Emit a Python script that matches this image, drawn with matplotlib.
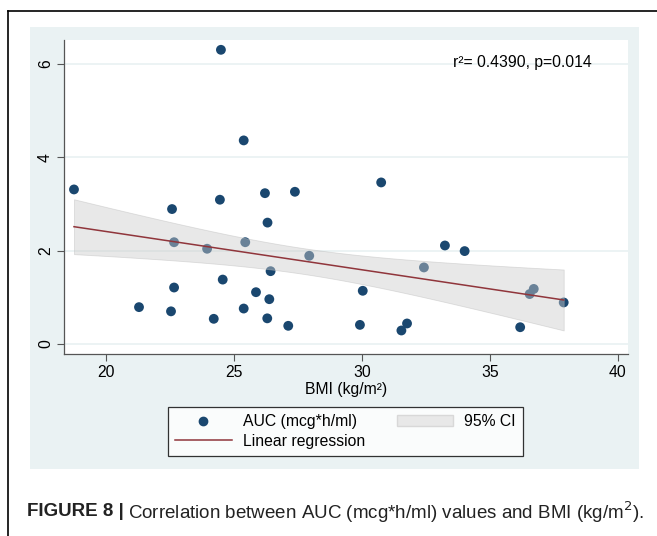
import numpy as np
import matplotlib.pyplot as plt
from matplotlib.lines import Line2D
from matplotlib.patches import Patch, Rectangle

plt.rcParams['font.family'] = ['Liberation Sans', 'DejaVu Sans']

# valeurs
bmi = [18.75, 24.49, 25.38, 24.45, 26.21, 27.38, 22.58, 26.31, 22.66, 23.95,
       25.44, 27.94, 26.43, 24.56, 22.66, 25.86, 26.38, 21.29, 22.54, 25.38,
       24.21, 26.30, 27.12, 30.75, 33.24, 34.01, 32.42, 30.03, 29.92, 31.54,
       31.76, 36.18, 36.55, 36.71, 37.88]
auc = [3.31, 6.30, 4.36, 3.09, 3.23, 3.26, 2.89, 2.60, 2.18, 2.04,
       2.18, 1.89, 1.56, 1.38, 1.21, 1.11, 0.96, 0.79, 0.70, 0.76,
       0.54, 0.55, 0.39, 3.46, 2.11, 1.99, 1.64, 1.14, 0.41, 0.29,
       0.44, 0.36, 1.07, 1.18, 0.89]
x_ticks = [20, 25, 30, 35, 40]
y_ticks = [0, 2, 4, 6]

NAVY = "#1a476f"
MAROON = "#90353b"
PANEL = "#eaf2f3"
# largeur de bande ajustée sur la figure (les valeurs lues donnent un se plus grand)
CI_MULT = 1.26
FS = 11.3

W, H = 657, 536
fig = plt.figure(figsize=(W / 100, H / 100), dpi=100)


def fx(px):
    return px / W


def fy(py):
    return 1 - py / H


# cadre de la page et fond Stata
fig.add_artist(Line2D([fx(8), 1], [fy(10.5), fy(10.5)], color="black", lw=1.2))
fig.add_artist(Line2D([fx(8), fx(8)], [0, fy(10.5)], color="black", lw=1.2))
fig.add_artist(Rectangle((fx(30), fy(469)), fx(639) - fx(30), fy(27) - fy(469),
                         facecolor=PANEL, edgecolor="none", zorder=0))

ax = fig.add_axes([fx(64), fy(354.3), fx(627.7) - fx(64), fy(40) - fy(354.3)])
ax.set_facecolor("white")

x = np.array(bmi)
y = np.array(auc)
slope, intercept = np.polyfit(x, y, 1)
xs = np.linspace(x.min(), x.max(), 200)
fit = intercept + slope * xs
resid = y - (intercept + slope * x)
s = np.sqrt(np.sum(resid ** 2) / (len(x) - 2))
se = s * np.sqrt(1 / len(x) + (xs - x.mean()) ** 2 / np.sum((x - x.mean()) ** 2))

for yt in y_ticks:
    ax.axhline(yt, color=PANEL, lw=1.3, zorder=0)

ax.scatter(x, y, s=50, color=NAVY, edgecolors="none", zorder=2)
ax.fill_between(xs, fit - CI_MULT * se, fit + CI_MULT * se, facecolor="#cccccc",
                alpha=0.45, edgecolor="#bbbbbb", lw=0.6, zorder=3)
ax.plot(xs, fit, color=MAROON, lw=1.1, zorder=4)

ax.set_xlim(18.36, 40.38)
ax.set_ylim(-0.22, 6.51)
ax.set_xticks(x_ticks)
ax.set_yticks(y_ticks)
ax.tick_params(axis="both", direction="out", length=5, width=0.8, color="#555555",
               labelsize=FS, pad=3)
for lab in ax.get_yticklabels():
    lab.set_rotation(90)
    lab.set_va("center")
for side in ["top", "right"]:
    ax.spines[side].set_visible(False)
for side in ["left", "bottom"]:
    ax.spines[side].set_color("#555555")
    ax.spines[side].set_linewidth(0.9)

ax.set_xlabel("BMI (kg/m²)", fontsize=FS, labelpad=1)
ax.text(0.69, 0.93, "r²= 0.4390, p=0.014", transform=ax.transAxes,
        fontsize=FS, ha="left", va="center")

handles = [
    Line2D([], [], marker="o", ls="none", color=NAVY, markersize=6),
    Line2D([], [], color=MAROON, lw=1.1),
    Patch(facecolor="#e8e8e8", edgecolor="#d8d8d8"),
]
labels = ["AUC (mcg*h/ml)", "Linear regression", "95% CI"]
leg = fig.legend(handles, labels, ncol=2, loc="upper left",
                 bbox_to_anchor=(fx(168), fy(457), fx(523) - fx(168), fy(407) - fy(457)),
                 mode="expand", fancybox=False, fontsize=FS, frameon=True,
                 borderaxespad=0, handlelength=3.6, columnspacing=2.0,
                 borderpad=0.45, labelspacing=0.3, handletextpad=0.7)
leg.get_frame().set_edgecolor("black")
leg.get_frame().set_linewidth(0.9)

t1 = fig.text(fx(27), fy(512), "FIGURE 8 |", fontsize=13.5, fontweight="bold",
              ha="left", va="center", color="#222222")
fig.canvas.draw()
x_end = t1.get_window_extent().x1
fig.text((x_end + 4) / W, fy(512),
         "Correlation between AUC (mcg*h/ml) values and BMI (kg/m$^{2}$).",
         fontsize=13.5, ha="left", va="center", color="#222222")

fig.savefig("out.png", dpi=100)
